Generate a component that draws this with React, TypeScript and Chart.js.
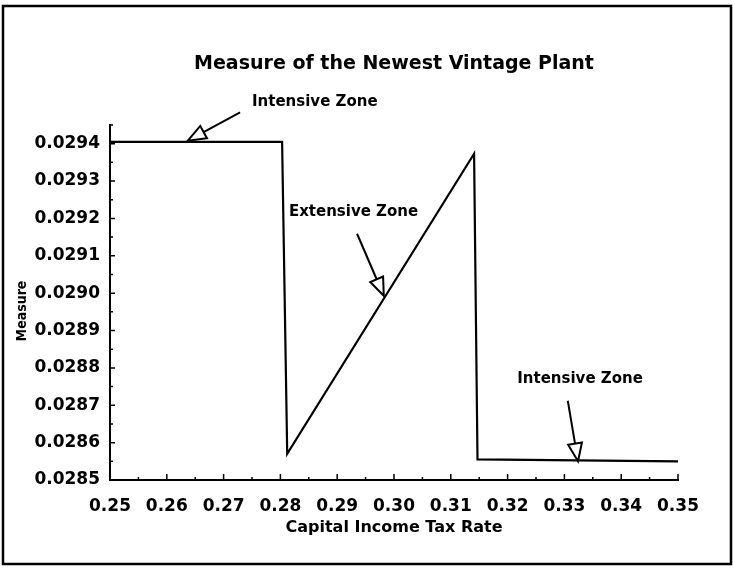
import React, { useEffect, useRef } from "react";
import { Chart, registerables } from "chart.js";
Chart.register(...registerables);

// ---- data ----
const taxRate = [0.25, 0.2803, 0.2812, 0.3141, 0.3147, 0.35];
const measure = [0.029405, 0.029405, 0.02857, 0.029373, 0.028555, 0.02855];

const xTicks = [0.25, 0.26, 0.27, 0.28, 0.29, 0.3, 0.31, 0.32, 0.33, 0.34, 0.35];
const xMinorTicks = [0.255, 0.265, 0.275, 0.285, 0.295, 0.305, 0.315, 0.325, 0.335, 0.345];
const yTicks = [0.0285, 0.0286, 0.0287, 0.0288, 0.0289, 0.029, 0.0291, 0.0292, 0.0293, 0.0294];
const yMinorTicks = [0.02855, 0.02865, 0.02875, 0.02885, 0.02895, 0.02905, 0.02915, 0.02925, 0.02935, 0.02945];

const chartTitle = "Measure of the Newest Vintage Plant";
const xTitle = "Capital Income Tax Rate";
const yTitle = "Measure";

// annotations (data units)
const noteText = ["Intensive Zone", "Extensive Zone", "Intensive Zone"];
const noteX = [0.275, 0.2815, 0.3217];
const noteY = [0.029511, 0.029216, 0.028769];
const arrowFromX = [0.2729, 0.2935, 0.3306];
const arrowFromY = [0.029484, 0.029159, 0.028712];
const arrowToX = [0.2637, 0.2982, 0.3324];
const arrowToY = [0.029408, 0.028993, 0.02855];

const FONT = "'DejaVu Sans', sans-serif";

const decorPlugin = {
  id: "decor",
  afterDraw(chart: any) {
    const ctx = chart.ctx;
    const xs = chart.scales.x;
    const ys = chart.scales.y;
    const area = chart.chartArea;
    ctx.save();
    ctx.strokeStyle = "#000";
    ctx.fillStyle = "#000";
    // frame
    ctx.lineWidth = 2.5;
    ctx.strokeRect(3, 6, 728, 558);
    // chart title
    ctx.font = `bold 19px ${FONT}`;
    ctx.textAlign = "center";
    ctx.textBaseline = "middle";
    ctx.fillText(chartTitle, (area.left + area.right) / 2, 64);
    // y title
    ctx.save();
    ctx.translate(22, 311);
    ctx.rotate(-Math.PI / 2);
    ctx.font = `bold 14px 'DejaVu Sans Condensed', 'DejaVu Sans', sans-serif`;
    ctx.fillText(yTitle, 0, 0);
    ctx.restore();
    // inward ticks
    ctx.lineWidth = 1.5;
    ctx.beginPath();
    xTicks.forEach((v) => {
      const px = xs.getPixelForValue(v);
      ctx.moveTo(px, area.bottom);
      ctx.lineTo(px, area.bottom - 6);
    });
    xMinorTicks.forEach((v) => {
      const px = xs.getPixelForValue(v);
      ctx.moveTo(px, area.bottom);
      ctx.lineTo(px, area.bottom - 3);
    });
    yTicks.forEach((v) => {
      const py = ys.getPixelForValue(v);
      ctx.moveTo(area.left, py);
      ctx.lineTo(area.left + 5, py);
    });
    yMinorTicks.forEach((v) => {
      const py = ys.getPixelForValue(v);
      ctx.moveTo(area.left, py);
      ctx.lineTo(area.left + 3, py);
    });
    ctx.stroke();
    // annotations
    ctx.font = `bold 15px ${FONT}`;
    ctx.textAlign = "left";
    ctx.textBaseline = "middle";
    noteText.forEach((t, i) => {
      ctx.fillText(t, xs.getPixelForValue(noteX[i]), ys.getPixelForValue(noteY[i]));
      const x0 = xs.getPixelForValue(arrowFromX[i]);
      const y0 = ys.getPixelForValue(arrowFromY[i]);
      const x1 = xs.getPixelForValue(arrowToX[i]);
      const y1 = ys.getPixelForValue(arrowToY[i]);
      const dx = x1 - x0;
      const dy = y1 - y0;
      const len = Math.hypot(dx, dy);
      const ux = dx / len;
      const uy = dy / len;
      const headL = 18;
      const headW = 7;
      const bx = x1 - ux * headL;
      const by = y1 - uy * headL;
      ctx.lineWidth = 2;
      ctx.beginPath();
      ctx.moveTo(x0, y0);
      ctx.lineTo(bx, by);
      ctx.stroke();
      ctx.beginPath();
      ctx.moveTo(x1, y1);
      ctx.lineTo(bx - uy * headW, by + ux * headW);
      ctx.lineTo(bx + uy * headW, by - ux * headW);
      ctx.closePath();
      ctx.fillStyle = "#fff";
      ctx.fill();
      ctx.stroke();
      ctx.fillStyle = "#000";
    });
    ctx.restore();
  },
};

export default function App() {
  const ref = useRef<HTMLCanvasElement | null>(null);
  useEffect(() => {
    if (!ref.current) return;
    const chart = new Chart(ref.current, {
      type: "scatter",
      data: {
        datasets: [
          {
            data: taxRate.map((x, i) => ({ x, y: measure[i] })),
            showLine: true,
            borderColor: "#000",
            borderWidth: 2.2,
            pointRadius: 0,
            tension: 0,
          },
        ],
      },
      options: {
        responsive: false,
        animation: false,
        devicePixelRatio: 1,
        layout: { padding: { left: 0, right: 55, top: 125, bottom: 0 } },
        plugins: {
          legend: { display: false },
          tooltip: { enabled: false },
          title: { display: false },
        },
        scales: {
          x: {
            type: "linear",
            min: 0.25,
            max: 0.35,
            afterBuildTicks: (s: any) => {
              s.ticks = xTicks.map((v) => ({ value: v }));
            },
            afterFit: (s: any) => {
              s.height = 90;
            },
            grid: { display: false, drawTicks: false },
            border: { display: true, color: "#000", width: 2 },
            ticks: {
              color: "#000",
              padding: 16,
              maxRotation: 0,
              autoSkip: false,
              font: { family: FONT, size: 17, weight: "bold" },
              callback: (v: any) => Number(v).toFixed(2),
            },
            title: {
              display: true,
              text: xTitle,
              color: "#000",
              font: { family: FONT, size: 16, weight: "bold" },
              padding: { top: 0, bottom: 33 },
            },
          },
          y: {
            type: "linear",
            min: 0.0285,
            max: 0.02945,
            afterBuildTicks: (s: any) => {
              s.ticks = yTicks.map((v) => ({ value: v }));
            },
            afterFit: (s: any) => {
              s.width = 110;
            },
            grid: { display: false, drawTicks: false },
            border: { display: true, color: "#000", width: 2 },
            ticks: {
              color: "#000",
              padding: 10,
              autoSkip: false,
              font: { family: FONT, size: 17, weight: "bold" },
              callback: (v: any) => Number(v).toFixed(4),
            },
            title: { display: false },
          },
        },
      },
      plugins: [decorPlugin],
    } as any);
    return () => chart.destroy();
  }, []);
  return (
    <div style={{ position: "absolute", left: 0, top: 0, width: 733, height: 570, background: "#fff" }}>
      <canvas ref={ref} width={733} height={570} style={{ display: "block" }} />
    </div>
  );
}
